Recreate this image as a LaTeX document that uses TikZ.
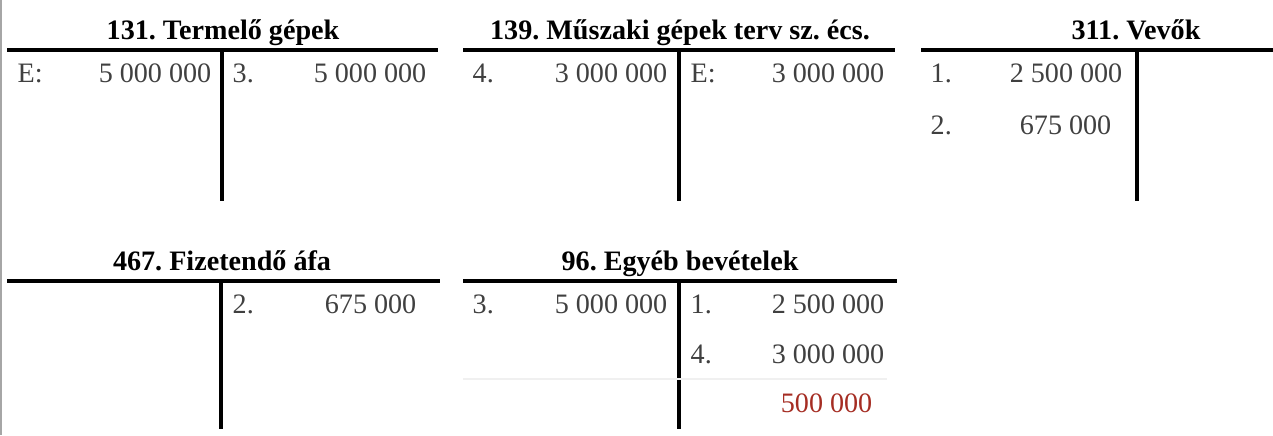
\documentclass[tikz,border=0pt]{standalone}
\usepackage{fontspec}
\setmainfont{Liberation Serif}
\usepackage{xcolor}
\definecolor{piros}{RGB}{165,45,35}
\frenchspacing

\begin{document}
\begin{tikzpicture}[x=0.01cm,y=-0.01cm,
  konto/.style={line width=1.2pt},
  cim/.style={font=\fontsize{8}{10}\selectfont\bfseries,anchor=base,inner sep=0pt},
  tetel/.style={font=\fontsize{8}{10}\selectfont,text=black!75,anchor=base west,inner sep=0pt},
  osszeg/.style={font=\fontsize{8}{10}\selectfont,text=black!75,anchor=base east,inner sep=0pt}]
  \useasboundingbox (0,0) rectangle (1273,435);

  % left edge
  \coordinate (l1) at (1,0);
  \coordinate (l2) at (1,435);
  \draw[black!35,line width=0.6pt] (l1) -- (l2);

  % 131. Termelo gepek
  \node[cim] (t131) at (223,39) {131. Termelő gépek};
  \coordinate (a1) at (7,50);
  \coordinate (a2) at (438,50);
  \coordinate (a3) at (222,50);
  \coordinate (a4) at (222,201);
  \draw[konto] (a1) -- (a2);
  \draw[konto] (a3) -- (a4);
  \node[tetel] (a131k) at (17,82) {E:};
  \node[osszeg] (a131ko) at (212,82) {5 000 000};
  \node[tetel] (a131t) at (232,82) {3.};
  \node[osszeg] (a131to) at (427,82) {5 000 000};

  % 139. Muszaki gepek
  \node[cim] (t139) at (680,39) {139. Műszaki gépek terv sz. écs.};
  \coordinate (b1) at (463,50);
  \coordinate (b2) at (895,50);
  \coordinate (b3) at (679,50);
  \coordinate (b4) at (679,201);
  \draw[konto] (b1) -- (b2);
  \draw[konto] (b3) -- (b4);
  \node[tetel] (a139k) at (472,82) {4.};
  \node[osszeg] (a139ko) at (668,82) {3 000 000};
  \node[tetel] (a139t) at (690,82) {E:};
  \node[osszeg] (a139to) at (885,82) {3 000 000};

  % 311. Vevok
  \node[cim] (t311) at (1136,39) {311. Vevők};
  \coordinate (c1) at (921,50);
  \coordinate (c2) at (1273,50);
  \coordinate (c3) at (1137,50);
  \coordinate (c4) at (1137,201);
  \draw[konto] (c1) -- (c2);
  \draw[konto] (c3) -- (c4);
  \node[tetel] (a311k1) at (930,82) {1.};
  \node[osszeg] (a311k1o) at (1123,82) {2 500 000};
  \node[tetel] (a311k2) at (930,134) {2.};
  \node[osszeg] (a311k2o) at (1112,134) {675 000};

  % 467. Fizetendo afa
  \node[cim] (t467) at (222,270) {467. Fizetendő áfa};
  \coordinate (d1) at (7,281);
  \coordinate (d2) at (440,281);
  \coordinate (d3) at (221,281);
  \coordinate (d4) at (221,429);
  \draw[konto] (d1) -- (d2);
  \draw[konto] (d3) -- (d4);
  \node[tetel] (a467t) at (232,313) {2.};
  \node[osszeg] (a467to) at (417,313) {675 000};

  % 96. Egyeb bevetelek
  \node[cim] (t96) at (680,270) {96. Egyéb bevételek};
  \coordinate (e1) at (463,281);
  \coordinate (e2) at (897,281);
  \coordinate (e3) at (679,281);
  \coordinate (e4) at (679,429);
  \coordinate (e5) at (463,379);
  \coordinate (e6) at (887,379);
  \draw[konto] (e1) -- (e2);
  \draw[konto] (e3) -- (e4);
  \draw[black!6,line width=0.5pt] (e5) -- (e6);
  \node[tetel] (a96k) at (472,313) {3.};
  \node[osszeg] (a96ko) at (668,313) {5 000 000};
  \node[tetel] (a96t1) at (690,313) {1.};
  \node[osszeg] (a96t1o) at (885,313) {2 500 000};
  \node[tetel] (a96t2) at (690,363) {4.};
  \node[osszeg] (a96t2o) at (885,363) {3 000 000};
  \node[osszeg,text=piros] (a96e) at (873,412) {500 000};
\end{tikzpicture}
\end{document}
